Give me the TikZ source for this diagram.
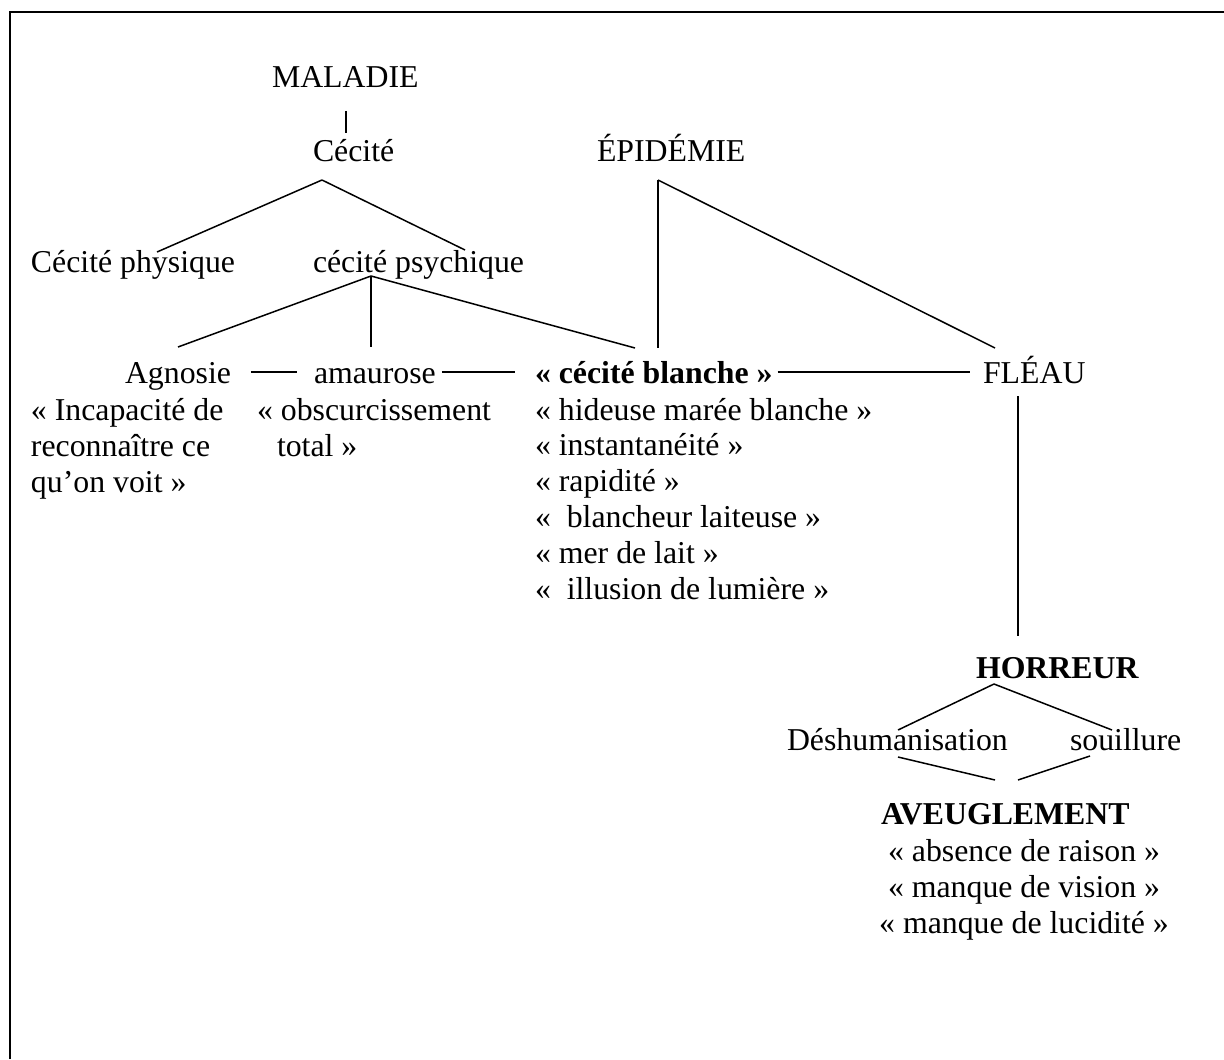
\documentclass[tikz,border=0pt]{standalone}
\usepackage{fontspec}
\setmainfont{Liberation Serif}
\usepackage{tikz}
\usetikzlibrary{calc}
\newcommand{\diagfont}{\fontsize{15.9pt}{18.2pt}\selectfont}

\begin{document}
\begin{tikzpicture}[x=0.5pt,y=-0.5pt]
\tikzstyle{term}=[inner sep=0pt, outer sep=0pt, anchor=base west, font=\diagfont]
\tikzstyle{key}=[term, font=\diagfont\bfseries]
\tikzstyle{gloss}=[term]
\tikzstyle{mid}=[term, anchor=base]
\tikzstyle{connect}=[line width=0.75pt]
\tikzstyle{frame}=[line width=1pt]

  \useasboundingbox (0,0) rectangle (1224,1059);
  \draw[frame] (9.5,1059) -- (9.5,12) -- (1224,12);

  \node[term] (maladie)  at (272,88)  {MALADIE};
  \node[term] (cecite)   at (313,162) {Cécité};
  \node[term] (epidemie) at (597,162) {ÉPIDÉMIE};
  \node[term] (cphys)    at (31,272)  {Cécité physique};
  \node[term] (cpsych)   at (313,272) {cécité psychique};

  \node[term] (agnosie)  at (125,383) {Agnosie};
  \node[term] (amaurose) at (314,383) {amaurose};
  \node[key]  (blanche)  at (535,383) {« cécité blanche »};
  \node[term] (fleau)    at (983,383) {FLÉAU};

  \node[gloss] (ag1) at (31,420)                             {« Incapacité de};
  \node[gloss] (ag2) at ([shift={(0,36.4)}]ag1.base west)    {reconnaître ce};
  \node[gloss] (ag3) at ([shift={(0,36.4)}]ag2.base west)    {qu’on voit »};

  \node[gloss] (am1) at (257,420)                            {« obscurcissement};
  \node[gloss] (am2) at ([shift={(20,36.4)}]am1.base west)   {total »};

  \node[gloss] (bl1) at (535,420)                            {« hideuse marée blanche »};
  \node[gloss] (bl2) at ([shift={(0,35.8)}]bl1.base west)    {« instantanéité »};
  \node[gloss] (bl3) at ([shift={(0,35.8)}]bl2.base west)    {« rapidité »};
  \node[gloss] (bl4) at ([shift={(0,35.8)}]bl3.base west)    {« \ blancheur laiteuse »};
  \node[gloss] (bl5) at ([shift={(0,35.8)}]bl4.base west)    {« mer de lait »};
  \node[gloss] (bl6) at ([shift={(0,35.8)}]bl5.base west)    {« \ illusion de lumière »};

  \node[key]  (horreur)   at (976,678)  {HORREUR};
  \node[term] (deshum)    at (787,750)  {Déshumanisation};
  \node[term] (souillure) at (1070,750) {souillure};
  \node[key]  (aveugl)    at (881,824)  {AVEUGLEMENT};

  \node[mid] (av1) at (1024,861)                  {« absence de raison »};
  \node[mid] (av2) at ([shift={(0,36.4)}]av1.base) {« manque de vision »};
  \node[mid] (av3) at ([shift={(0,36.4)}]av2.base) {« manque de lucidité »};

  % upper tree
  \path ($(maladie.base west)+(74,23)$) edge [connect] ($(cecite.base west)+(33,-29)$);
  \path ($(cecite.base west)+(9,18)$)   edge [connect] ($(cphys.base west)+(126,-20)$);
  \path ($(cecite.base west)+(9,18)$)   edge [connect] ($(cpsych.base west)+(152,-22)$);
  \path ($(cpsych.base west)+(58,4)$)   edge [connect] ($(agnosie.base west)+(53,-36)$);
  \path ($(cpsych.base west)+(58,4)$)   edge [connect] ($(amaurose.base west)+(57,-36)$);
  \path ($(cpsych.base west)+(58,4)$)   edge [connect] ($(blanche.base west)+(100,-35)$);
  \path ($(epidemie.base west)+(61,18)$) edge [connect] ($(blanche.base west)+(123,-35)$);
  \path ($(epidemie.base west)+(61,18)$) edge [connect] ($(fleau.base west)+(12,-35)$);

  % middle row
  \path ($(agnosie.base east)+(20,-11)$)  edge [connect] ($(amaurose.base west)+(-17,-11)$);
  \path ($(amaurose.base east)+(6,-11)$)  edge [connect] ($(blanche.base west)+(-20,-11)$);
  \path ($(blanche.base east)+(5,-11)$)   edge [connect] ($(fleau.base west)+(-13,-11)$);

  % lower tree
  \path ($(fleau.base west)+(35,13)$)     edge [connect] ($(horreur.base west)+(42,-42)$);
  \path ($(horreur.base west)+(18,6)$)    edge [connect] ($(deshum.base west)+(111,-20)$);
  \path ($(horreur.base west)+(18,6)$)    edge [connect] ($(souillure.base west)+(42,-20)$);
  \path ($(deshum.base west)+(111,7)$)    edge [connect] ($(aveugl.base west)+(114,-44)$);
  \path ($(souillure.base west)+(20,6)$)  edge [connect] ($(aveugl.base west)+(137,-44)$);

\end{tikzpicture}
\end{document}
